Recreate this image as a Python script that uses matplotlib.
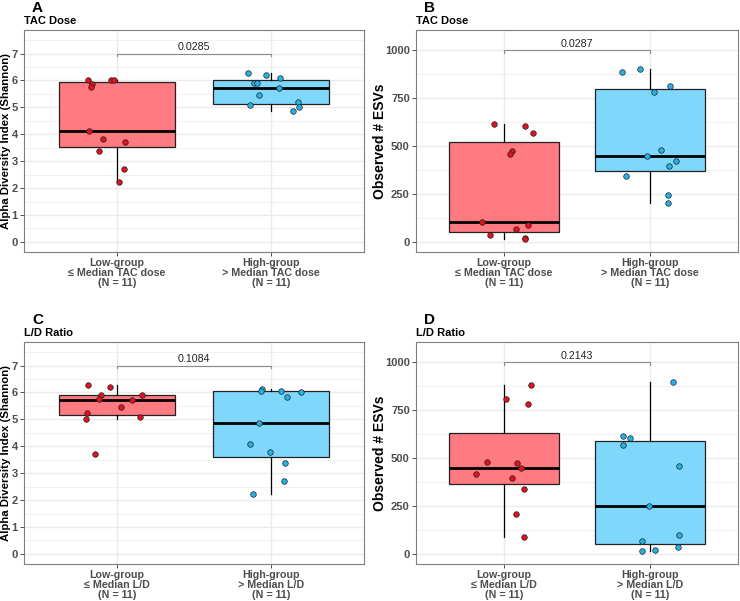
import matplotlib
matplotlib.use("Agg")
import matplotlib.pyplot as plt
import numpy as np

plt.rcParams['font.family'] = ['Liberation Sans', 'DejaVu Sans']

# ---- data ----
groups_tac = ["Low-group\n≤ Median TAC dose\n(N = 11)", "High-group\n> Median TAC dose\n(N = 11)"]
groups_ld = ["Low-group\n≤ Median L/D\n(N = 11)", "High-group\n> Median L/D\n(N = 11)"]

# A: Shannon by TAC dose
a_low = [6.03, 5.85, 5.76, 6.03, 6.02, 4.11, 3.82, 3.72, 3.37, 2.70, 2.21]
a_low_jit = [-0.188, -0.162, -0.164, -0.037, -0.015, -0.177, -0.089, 0.054, -0.117, 0.045, 0.015]
a_high = [6.28, 6.20, 5.90, 5.90, 6.10, 5.72, 5.46, 5.08, 5.20, 5.03, 4.88]
a_high_jit = [-0.149, -0.035, -0.112, -0.091, 0.056, 0.048, -0.078, -0.138, 0.173, 0.177, 0.138]

# B: observed ESVs by TAC dose
b_low = [616, 606, 571, 476, 457, 102, 89, 68, 36, 23, 17]
b_low_jit = [-0.068, 0.146, 0.198, 0.057, 0.043, -0.148, 0.164, 0.084, -0.093, 0.144, 0.146]
b_high = [887, 901, 812, 781, 479, 451, 422, 396, 344, 247, 203]
b_high_jit = [-0.194, -0.071, 0.132, 0.025, 0.075, -0.021, 0.175, 0.130, -0.164, 0.121, 0.121]

# C: Shannon by L/D ratio
c_low = [6.28, 6.20, 5.90, 5.77, 5.90, 5.72, 5.46, 5.22, 5.03, 5.08, 3.73]
c_low_jit = [-0.188, -0.045, -0.104, -0.117, 0.166, 0.102, 0.030, -0.194, -0.201, 0.149, -0.143]
c_high = [6.13, 6.06, 6.05, 6.03, 5.84, 4.88, 4.10, 3.80, 3.37, 2.70, 2.21]
c_high_jit = [-0.060, -0.065, 0.060, 0.190, 0.099, -0.080, -0.136, -0.009, 0.089, 0.084, -0.119]

# D: observed ESVs by L/D ratio
d_low = [884, 809, 780, 479, 474, 450, 418, 394, 339, 207, 90]
d_low_jit = [0.185, 0.014, 0.164, -0.112, 0.087, 0.118, -0.187, 0.055, 0.139, 0.084, 0.141]
d_high = [899, 615, 604, 571, 457, 248, 99, 68, 36, 23, 16]
d_high_jit = [0.155, -0.187, -0.137, -0.187, 0.194, -0.005, 0.196, -0.059, 0.187, 0.032, -0.057]

pvals = ["0.0285", "0.0287", "0.1084", "0.2143"]

box_fill = ["#FF7A81", "#80D7FC"]
pt_col = ["#E3121F", "#25B2E6"]

W, H = 740, 601
fig = plt.figure(figsize=(W / 100, H / 100), dpi=100)


def px_axes(l, t, r, b):
    return fig.add_axes([l / W, 1 - b / H, (r - l) / W, (b - t) / H])


def panel(ax, low, low_j, high, high_j, labels, ylim, yticks, yminor, ylabel, ylab_size, ylab_x,
          bracket_y, tick_h, pval):
    ax.set_xlim(0.4, 2.6)
    ax.set_ylim(*ylim)
    for y in yminor:
        ax.axhline(y, color="#EBEBEB", lw=0.5, zorder=0)
    for y in yticks:
        ax.axhline(y, color="#EBEBEB", lw=1.0, zorder=0)
    for x in [1, 2]:
        ax.axvline(x, color="#EBEBEB", lw=1.0, zorder=0)

    bp = ax.boxplot([low, high], positions=[1, 2], widths=0.75, patch_artist=True,
                    showfliers=False, whis=1.5,
                    medianprops=dict(color="black", lw=2.0),
                    whiskerprops=dict(color="black", lw=0.9),
                    capprops=dict(lw=0),
                    boxprops=dict(lw=0.9))
    for patch, fc in zip(bp["boxes"], box_fill):
        patch.set_facecolor(fc)
        patch.set_edgecolor("#222222")
        patch.set_zorder(2)

    ax.scatter(1 + np.array(low_j), low, s=16, color=pt_col[0], edgecolor="#222222", lw=0.5, zorder=4)
    ax.scatter(2 + np.array(high_j), high, s=16, color=pt_col[1], edgecolor="#222222", lw=0.5, zorder=4)

    # significance bracket
    ax.plot([1, 1, 2, 2], [bracket_y - tick_h, bracket_y, bracket_y, bracket_y - tick_h],
            color="#8A8A8A", lw=0.8, zorder=3)
    ax.text(1.5, bracket_y + tick_h * 0.6, pval, ha="center", va="bottom", fontsize=7.7, color="#222222")

    ax.set_xticks([1, 2])
    ax.set_xticklabels(labels, fontsize=7.7, fontweight="bold", color="#4D4D4D", linespacing=1.0)
    ax.set_yticks(yticks)
    ax.set_yticklabels([str(t) for t in yticks], fontsize=8, fontweight="bold", color="#4D4D4D")
    ax.tick_params(length=3, width=0.6, color="#333333", pad=1.5)
    for s in ax.spines.values():
        s.set_color("#7F7F7F")
        s.set_linewidth(0.8)
    ax.set_ylabel(ylabel, fontsize=ylab_size, fontweight="bold", va="center")
    ax.yaxis.set_label_coords(ylab_x, 0.5)


shannon_ticks = list(range(0, 8))
shannon_minor = [v + 0.5 for v in range(0, 8)]
esv_ticks = [0, 250, 500, 750, 1000]
esv_minor = [125, 375, 625, 875]

axA = px_axes(24, 30, 364, 252)
panel(axA, a_low, a_low_jit, a_high, a_high_jit, groups_tac, (-0.375, 7.875), shannon_ticks,
      shannon_minor, "Alpha Diversity Index (Shannon)", 8.2, (6 - 24) / 340, 7.0, 0.1, pvals[0])
axB = px_axes(416, 30, 738, 252)
panel(axB, b_low, b_low_jit, b_high, b_high_jit, groups_tac, (-52, 1106), esv_ticks,
      esv_minor, "Observed # ESVs", 10, (380 - 416) / 322, 1000, 14, pvals[1])
axC = px_axes(24, 342, 364, 564)
panel(axC, c_low, c_low_jit, c_high, c_high_jit, groups_ld, (-0.375, 7.875), shannon_ticks,
      shannon_minor, "Alpha Diversity Index (Shannon)", 8.2, (6 - 24) / 340, 7.0, 0.1, pvals[2])
axD = px_axes(416, 342, 738, 564)
panel(axD, d_low, d_low_jit, d_high, d_high_jit, groups_ld, (-52, 1106), esv_ticks,
      esv_minor, "Observed # ESVs", 10, (380 - 416) / 322, 1000, 14, pvals[3])

# panel letters and subtitles
for letter, sub, x, y in [("A", "TAC Dose", 24, 0), ("B", "TAC Dose", 416, 0),
                          ("C", "L/D Ratio", 24, 312), ("D", "L/D Ratio", 416, 312)]:
    fig.text((x + 8) / W, 1 - (y + 1) / H, letter, fontsize=11, fontweight="bold", va="top", ha="left")
    fig.text(x / W, 1 - (y + 16) / H, sub, fontsize=8, fontweight="bold", va="top", ha="left")

fig.savefig("out.png", dpi=100, facecolor="white")
